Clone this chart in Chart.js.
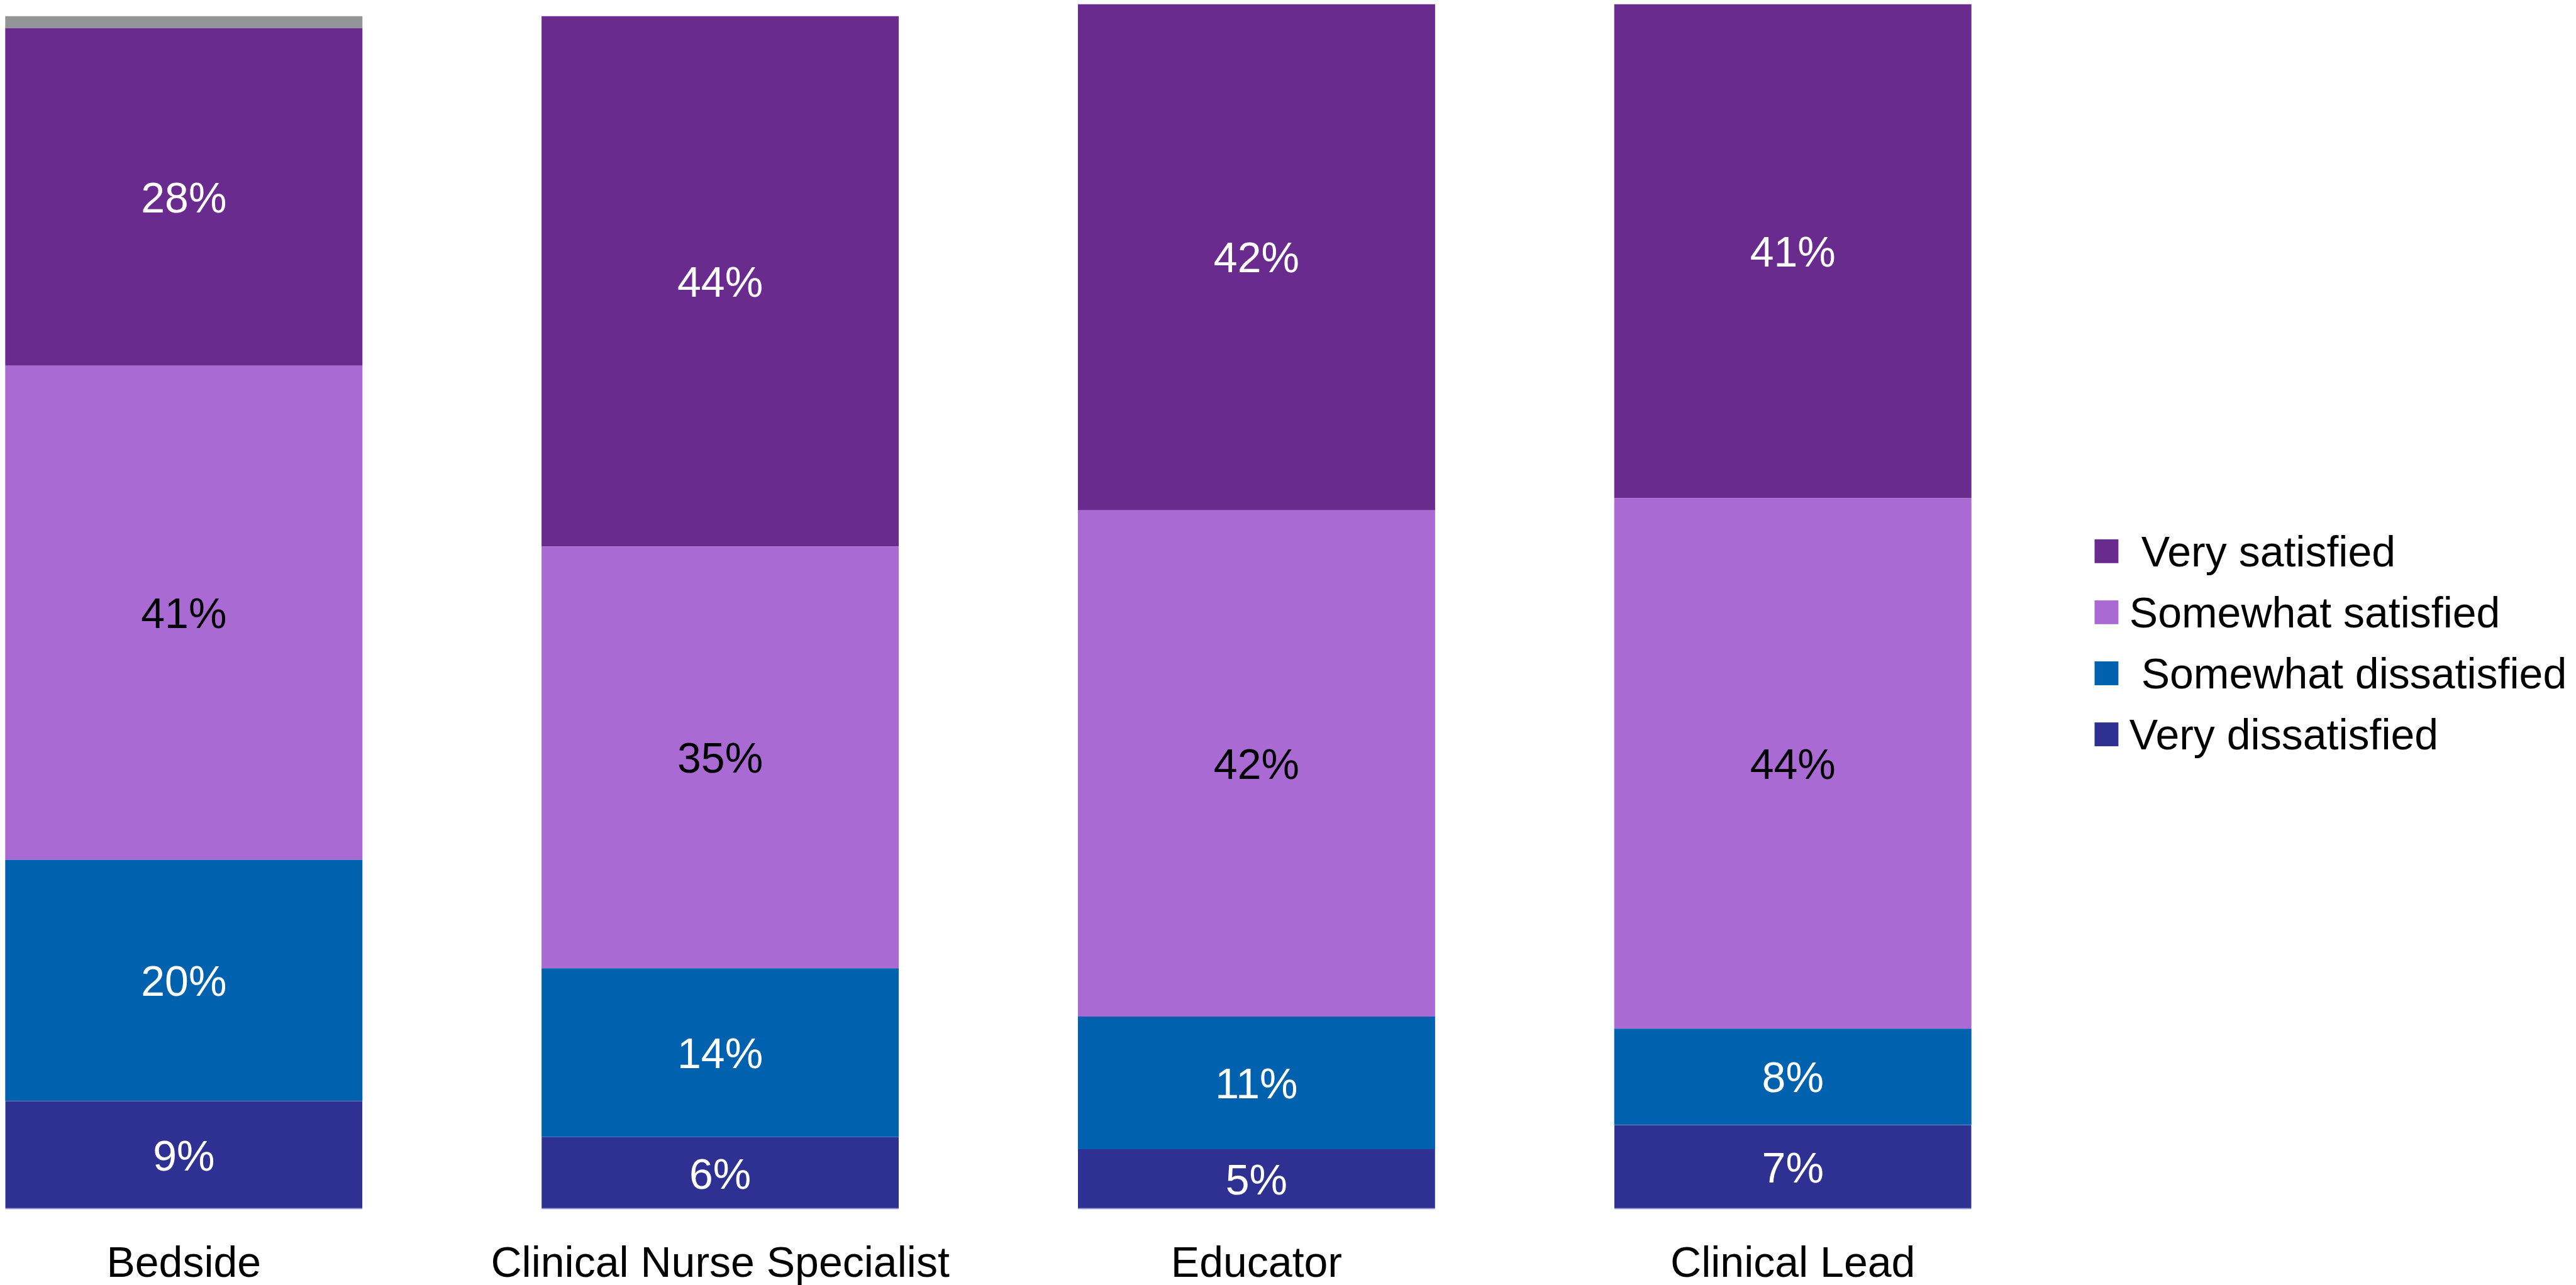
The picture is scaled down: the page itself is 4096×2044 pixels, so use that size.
<!DOCTYPE html>
<html>
<head>
<meta charset="utf-8">
<script src="https://cdn.jsdelivr.net/npm/chart.js@4.4.1/dist/chart.umd.min.js"></script>
<style>
  html, body { margin: 0; padding: 0; background: #fff; overflow: hidden; width: 4096px; height: 2044px; }
  #chart { position: absolute; left: -140px; top: 0; }
</style>
</head>
<body>
<canvas id="chart" width="4240" height="2100"></canvas>
<script>
const categories = ['Bedside', 'Clinical Nurse Specialist', 'Educator', 'Clinical Lead'];

// percentages per role, stacked bottom to top
const veryDissatisfied = [9, 6, 5, 7];
const somewhatDissatisfied = [20, 14, 11, 8];
const somewhatSatisfied = [41, 35, 42, 44];
const verySatisfied = [28, 44, 42, 41];
const noResponse = [1, 0, 0, 0];

const seriesNames = ['Very dissatisfied', ' Somewhat dissatisfied', 'Somewhat satisfied', ' Very satisfied'];
const seriesColors = ['#2e3192', '#0061ae', '#a96ad3', '#6a2b8f'];
const labelColors = ['#ffffff', '#ffffff', '#000000', '#ffffff'];

const FONT = '"Liberation Sans", Arial, sans-serif';
const FS = 68;

// value text in the middle of each segment
const segmentLabels = {
    id: 'segmentLabels',
    afterDatasetsDraw(chart) {
        const ctx = chart.ctx;
        ctx.save();
        ctx.font = `${FS}px ${FONT}`;
        ctx.textAlign = 'center';
        ctx.textBaseline = 'alphabetic';
        for (let d = 0; d < 4; d++) {
            const meta = chart.getDatasetMeta(d);
            meta.data.forEach((bar, i) => {
                const v = chart.data.datasets[d].data[i];
                if (!v) return;
                const { x, y, base } = bar.getProps(['x', 'y', 'base'], true);
                ctx.fillStyle = labelColors[d];
                ctx.fillText(v + '%', x, (y + base) / 2 + FS * 0.358);
            });
        }
        ctx.restore();
    }
};

// legend on the right, top row is the top of the stack
const sideLegend = {
    id: 'sideLegend',
    afterDraw(chart) {
        const ctx = chart.ctx;
        const area = chart.chartArea;
        const boxX = area.right + 53.4;
        const box = 37.9;
        ctx.save();
        ctx.font = `${FS}px ${FONT}`;
        ctx.textBaseline = 'alphabetic';
        ctx.textAlign = 'left';
        for (let r = 0; r < 4; r++) {
            const d = 3 - r;
            const cy = 876.8 + r * 97.1;
            ctx.fillStyle = seriesColors[d];
            ctx.fillRect(boxX, cy - box / 2, box, box);
            ctx.fillStyle = '#000';
            ctx.fillText(seriesNames[d], boxX + 55.3, cy + FS * 0.358);
        }
        ctx.restore();
    }
};

const datasets = [veryDissatisfied, somewhatDissatisfied, somewhatSatisfied, verySatisfied].map((vals, k) => ({
    label: seriesNames[k].trim(),
    data: vals,
    backgroundColor: seriesColors[k],
    borderWidth: k === 0 ? { bottom: 2 } : 0,
    borderColor: '#9d9dda',
    borderSkipped: k === 0 ? false : 'start'
}));
datasets.push({
    label: 'No response',
    data: noResponse,
    backgroundColor: '#939598',
    borderWidth: 0
});

new Chart(document.getElementById('chart'), {
    type: 'bar',
    data: { labels: categories, datasets: datasets },
    options: {
        responsive: false,
        animation: false,
        devicePixelRatio: 1,
        datasets: { bar: { categoryPercentage: 1, barPercentage: 0.666 } },
        layout: { padding: { left: 5.9, right: 822.9, top: 6.5, bottom: 0 } },
        plugins: { legend: { display: false }, tooltip: { enabled: false } },
        scales: {
            x: {
                stacked: true,
                grid: { display: false, drawTicks: false },
                border: { display: false },
                ticks: { color: '#000', padding: 54.1, font: { family: FONT, size: FS, lineHeight: 1 }, maxRotation: 0, autoSkip: false }
            },
            y: {
                stacked: true,
                display: false,
                min: 0,
                max: 100
            }
        }
    },
    plugins: [segmentLabels, sideLegend]
});
</script>
</body>
</html>
